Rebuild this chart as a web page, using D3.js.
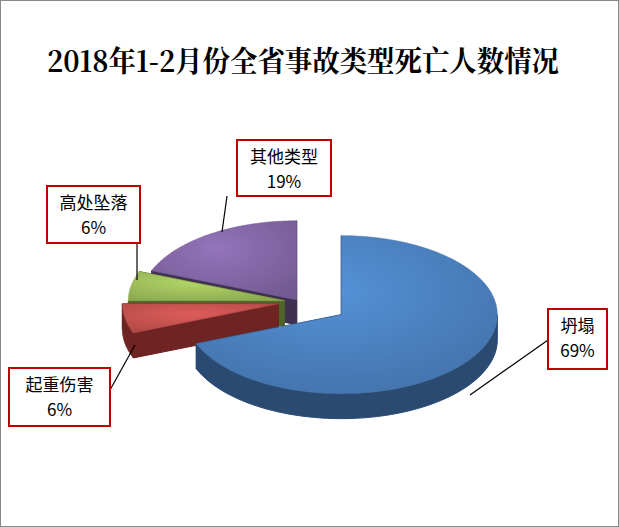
<!DOCTYPE html>
<html><head><meta charset="utf-8">
<script src="https://cdn.jsdelivr.net/npm/d3@7"></script>
<style>body{margin:0;background:#fff}</style>
</head><body>
<svg id="chart" width="619" height="527"></svg>
<script>
const categories = ['坍塌', '起重伤害', '高处坠落', '其他类型'];
const values = [69, 6, 6, 19];
const topColors = ['#4a7ebb', '#c0504d', '#9bbb59', '#8064a2'];
const sideColors = ['#2a4a72', '#6e2422', '#4f6228', '#403152'];
const explode = [50, 22, 16, 6];
const labelBoxes = [[548, 309, 59, 60], [9, 368, 101, 58], [47, 186, 93, 57], [237, 140, 94, 56]];
const leaders = [[[548, 340], [470, 395]], [[110, 390], [135, 345]], [[137, 243], [137, 280]], [[227, 196], [222, 232]]];

const svg = d3.select('#chart');
const W = 619, H = 527;
svg.append('rect').attr('x', 0.5).attr('y', 0.5).attr('width', W - 1).attr('height', H - 1)
  .style('fill', '#fff').style('stroke', '#888');

svg.append('text').attr('x', 303).attr('y', 72).attr('text-anchor', 'middle')
  .attr('textLength', 512).attr('lengthAdjust', 'spacingAndGlyphs')
  .style('font-family', '"Noto Serif CJK SC","Noto Sans CJK SC",serif').style('font-size', '29px')
  .style('font-weight', 'bold').style('fill', '#000')
  .text('2018年1-2月份全省事故类型死亡人数情况');

const cx0 = 300, cy0 = 302, rx = 156, ry = 79, depth = 25;
const pie = d3.pie().sort(null)(values).map(d => {
  const a0 = d.startAngle, a1 = d.endAngle, m = (a0 + a1) / 2;
  const e = explode[d.index];
  return {i: d.index, a0, a1, cx: cx0 + Math.sin(m) * e, cy: cy0 - Math.cos(m) * e * 0.45};
});
const pt = (s, a, dy) => [s.cx + rx * Math.sin(a), s.cy - ry * Math.cos(a) + (dy || 0)];
const arcPts = (s, a0, a1, dy) => d3.range(0, 61).map(k => pt(s, a0 + (a1 - a0) * k / 60, dy));
const line = d3.line();

const defs = svg.append('defs');
pie.forEach(s => {
  const g = defs.append('radialGradient').attr('id', 'g' + s.i).attr('cx', '45%').attr('cy', '35%').attr('r', '75%');
  g.append('stop').attr('offset', '0%').attr('stop-color', d3.color(topColors[s.i]).brighter(0.4));
  g.append('stop').attr('offset', '100%').attr('stop-color', d3.color(topColors[s.i]).darker(0.3));
});

// side walls, back to front
const sides = svg.append('g');
[...pie].sort((a, b) => a.cy - b.cy).forEach(s => {
  const c = sideColors[s.i];
  [s.a0, s.a1].forEach(a => {
    const p = pt(s, a);
    const poly = [[s.cx, s.cy], p, [p[0], p[1] + depth], [s.cx, s.cy + depth]];
    sides.append('path').attr('d', line(poly) + 'Z').style('fill', c).style('stroke', c);
  });
  const lo = Math.max(s.a0, Math.PI / 2), hi = Math.min(s.a1, Math.PI * 1.5);
  if (hi > lo) {
    const top = arcPts(s, lo, hi), bot = arcPts(s, hi, lo, depth);
    sides.append('path').attr('d', line(top.concat(bot)) + 'Z').style('fill', c).style('stroke', c);
  }
});
// tops
const tops = svg.append('g');
pie.forEach(s => {
  const poly = [[s.cx, s.cy]].concat(arcPts(s, s.a0, s.a1));
  tops.append('path').attr('d', line(poly) + 'Z').style('fill', `url(#g${s.i})`)
    .style('stroke', d3.color(topColors[s.i]).darker(0.2)).style('stroke-width', 0.5);
});

// leaders and labels
leaders.forEach(l => svg.append('path').attr('d', line(l)).style('stroke', '#000').style('fill', 'none').style('stroke-width', 1.2));
labelBoxes.forEach((b, i) => {
  svg.append('rect').attr('x', b[0]).attr('y', b[1]).attr('width', b[2]).attr('height', b[3])
    .style('fill', '#fff').style('stroke', '#c00000').style('stroke-width', 2);
  const t = svg.append('text').attr('text-anchor', 'middle')
    .style('font-family', '"Noto Sans CJK SC",sans-serif').style('font-size', '17px').style('fill', '#000');
  t.append('tspan').attr('x', b[0] + b[2] / 2).attr('y', b[1] + 23).text(categories[i]);
  t.append('tspan').attr('x', b[0] + b[2] / 2).attr('y', b[1] + 48).text(values[i] + '%');
});
</script>
</body></html>
